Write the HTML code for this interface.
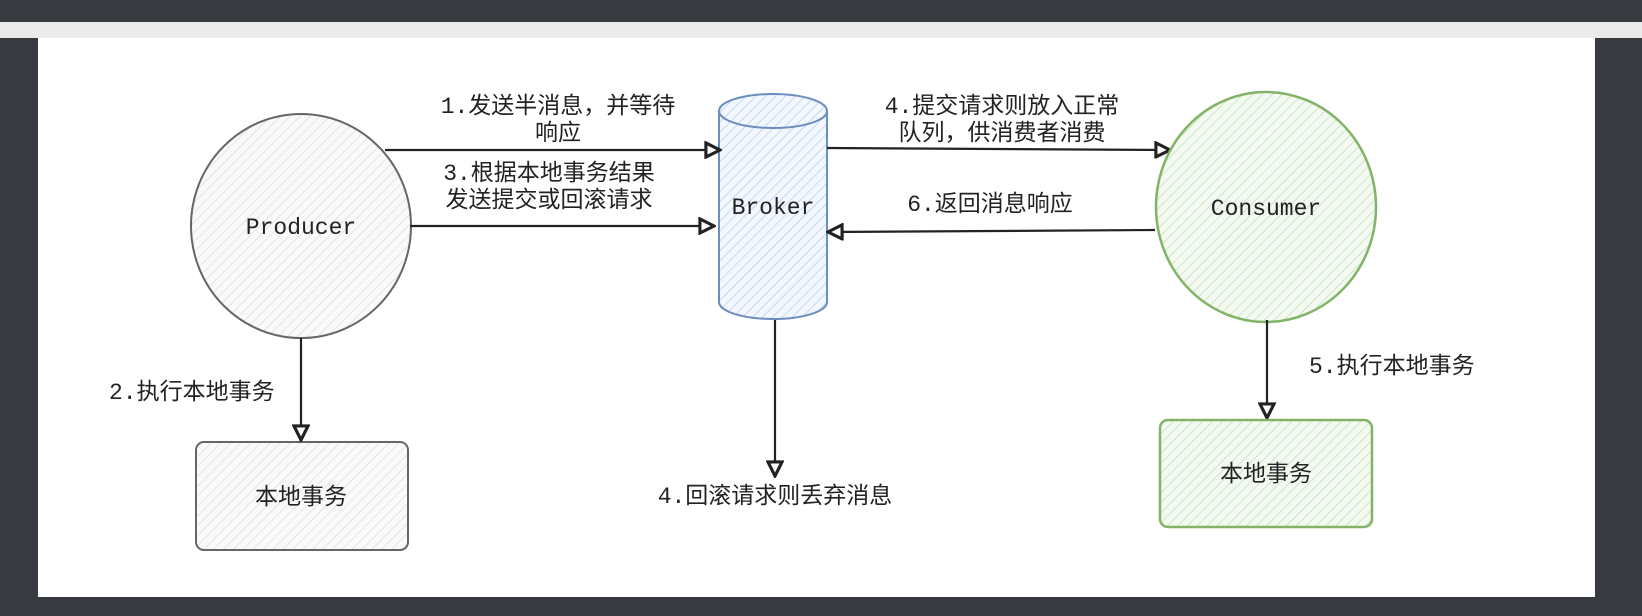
<!DOCTYPE html>
<html><head><meta charset="utf-8"><style>
html,body{margin:0;padding:0;background:#373b40;width:1642px;height:616px;overflow:hidden}
svg text{font-family:"Liberation Mono","Noto Sans CJK SC",monospace;font-size:23px;fill:#222}
</style></head><body>
<svg width="1642" height="616" viewBox="0 0 1642 616" xmlns="http://www.w3.org/2000/svg">
<defs>
<pattern id="hg" width="7" height="7" patternUnits="userSpaceOnUse" patternTransform="rotate(45)"><rect width="7" height="7" fill="#fafafa"/><line x1="0" y1="0" x2="0" y2="7" stroke="#ddd" stroke-width="1.5"/></pattern>
<pattern id="hb" width="7" height="7" patternUnits="userSpaceOnUse" patternTransform="rotate(45)"><rect width="7" height="7" fill="#f3f7fe"/><line x1="0" y1="0" x2="0" y2="7" stroke="#b9cdf0" stroke-width="1.5"/></pattern>
<pattern id="hgr" width="7" height="7" patternUnits="userSpaceOnUse" patternTransform="rotate(45)"><rect width="7" height="7" fill="#f4faf2"/><line x1="0" y1="0" x2="0" y2="7" stroke="#bfe0b5" stroke-width="1.5"/></pattern>
<marker id="ar" viewBox="0 0 10 10" refX="9" refY="5" markerWidth="8" markerHeight="8" orient="auto"><path d="M1,1 L9,5 L1,9 Z" fill="#fff" stroke="#222" stroke-width="1.8"/></marker>
</defs>
<rect x="0" y="22" width="1642" height="16" fill="#ebebeb"/>
<rect x="38" y="38" width="1557" height="559" fill="#fff"/>

<!-- Producer -->
<ellipse cx="301" cy="226" rx="110" ry="112" fill="url(#hg)" stroke="#666" stroke-width="2"/>
<text x="301" y="234" text-anchor="middle" fill="#444">Producer</text>
<rect x="196" y="442" width="212" height="108" rx="8" fill="url(#hg)" stroke="#666" stroke-width="2"/>
<text x="301" y="504" text-anchor="middle" fill="#333">本地事务</text>
<line x1="301" y1="338" x2="301" y2="440" stroke="#222" stroke-width="2.2" marker-end="url(#ar)"/>
<text x="109" y="399">2.执行本地事务</text>

<!-- Broker -->
<path d="M719,111 L719,302 A54,17 0 0 0 827,302 L827,111" fill="url(#hb)" stroke="#6c8ebf" stroke-width="2"/>
<ellipse cx="773" cy="111" rx="54" ry="17" fill="url(#hb)" stroke="#6c8ebf" stroke-width="2"/>
<text x="773" y="214" text-anchor="middle">Broker</text>
<line x1="775" y1="320" x2="775" y2="476" stroke="#222" stroke-width="2.2" marker-end="url(#ar)"/>
<text x="775" y="503" text-anchor="middle">4.回滚请求则丢弃消息</text>

<line x1="385" y1="150" x2="720" y2="150" stroke="#222" stroke-width="2.2" marker-end="url(#ar)"/>
<text x="558" y="113" text-anchor="middle">1.发送半消息，并等待</text>
<text x="558" y="140" text-anchor="middle">响应</text>
<line x1="410" y1="226" x2="714" y2="226" stroke="#222" stroke-width="2.2" marker-end="url(#ar)"/>
<text x="549" y="180" text-anchor="middle">3.根据本地事务结果</text>
<text x="549" y="207" text-anchor="middle">发送提交或回滚请求</text>

<line x1="827" y1="148" x2="1170" y2="150" stroke="#222" stroke-width="2.2" marker-end="url(#ar)"/>
<text x="1002" y="113" text-anchor="middle">4.提交请求则放入正常</text>
<text x="1002" y="140" text-anchor="middle">队列，供消费者消费</text>
<line x1="1155" y1="230" x2="828" y2="232" stroke="#222" stroke-width="2.2" marker-end="url(#ar)"/>
<text x="990" y="211" text-anchor="middle">6.返回消息响应</text>

<!-- Consumer -->
<ellipse cx="1266" cy="207" rx="110" ry="115" fill="url(#hgr)" stroke="#82b366" stroke-width="2.5"/>
<text x="1266" y="215" text-anchor="middle" fill="#333">Consumer</text>
<line x1="1267" y1="320" x2="1267" y2="418" stroke="#222" stroke-width="2.2" marker-end="url(#ar)"/>
<text x="1309" y="373">5.执行本地事务</text>
<rect x="1160" y="420" width="212" height="107" rx="8" fill="url(#hgr)" stroke="#82b366" stroke-width="2.5"/>
<text x="1266" y="481" text-anchor="middle" fill="#333">本地事务</text>
</svg>
</body></html>
